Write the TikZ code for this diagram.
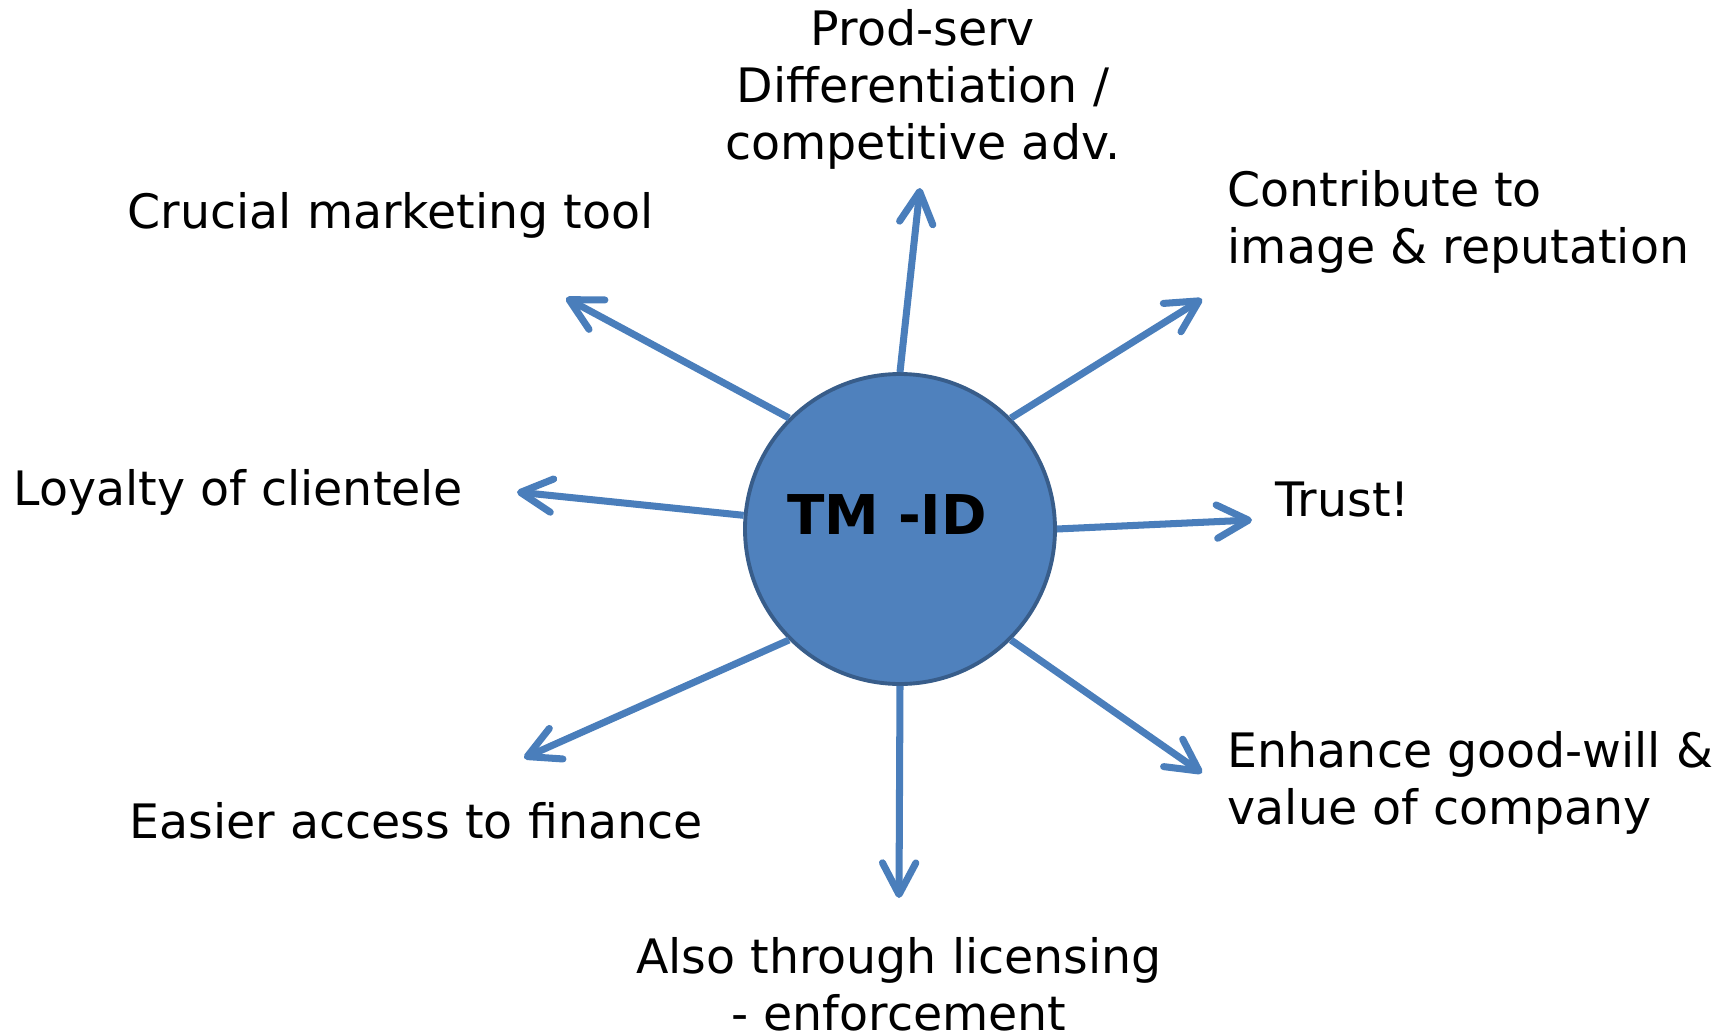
\documentclass[tikz,border=0pt]{standalone}
\usepackage{fontspec}
\setmainfont{DejaVu Sans}
\usetikzlibrary{arrows.meta,positioning}
\definecolor{hubfill}{HTML}{4F81BD}
\definecolor{hubedge}{HTML}{385D8A}
\definecolor{spokecol}{HTML}{4A7EBB}
\tikzstyle{hub} = [draw=hubedge, fill=hubfill, circle, line width=1.1pt, minimum size=31mm, inner sep=0pt]
\tikzstyle{note} = [inner sep=0pt, font=\fontsize{13.5}{16.2}\selectfont]
\tikzstyle{spoke} = [draw=spokecol, line width=2pt, -{Straight Barb[length=9pt,width=9.5pt,round]}]
\tikzstyle{tip} = [coordinate]

\begin{document}
\begin{tikzpicture}[x=0.1mm, y=-0.1mm]
    \useasboundingbox (0,0) rectangle (1732,1032);
    % Hub
    \node [hub] (tm) at (900,529) {};
    \node at (887,515) [font=\fontsize{15.6}{18}\selectfont\bfseries] (tmtext) {TM -ID};

    % Labels
    \node [note, align=center] (prod) at (923,89) {Prod-serv\\Differentiation /\\competitive adv.};
    \node [note, anchor=west] (crucial) at (127,215) {Crucial marketing tool};
    \node [note, anchor=west, align=left] (contrib) at (1227,222) {Contribute to\\image \& reputation};
    \node [note, anchor=west] (loyalty) at (13,492) {Loyalty of clientele};
    \node [note, anchor=west] (trust) at (1275,500) {Trust!};
    \node [note, anchor=west] (finance) at (129,821) {Easier access to finance};
    \node [note, anchor=west, align=left] (goodwill) at (1227,783) {Enhance good-will \&\\value of company};
    \node [note, align=center] (licensing) at (899,984) {Also through licensing\\- enforcement};

    % Arrow ends
    \node [tip] (upTip) at (920,188) {};
    \node [tip] (ulTip) at (566,298) {};
    \node [tip] (urTip) at (1202,299) {};
    \node [tip] (lTip) at (517,492) {};
    \node [tip] (rTip) at (1252,520) {};
    \node [tip] (dlTip) at (524,758) {};
    \node [tip] (dTip) at (899,898) {};
    \node [tip] (drTip) at (1202,773) {};

    % Connections
    \draw [spoke] (tm.90) -- (upTip);
    \draw [spoke] (tm.135) -- (ulTip);
    \draw [spoke] (tm.45) -- (urTip);
    \draw [spoke] (tm.175) -- (lTip);
    \draw [spoke] (tm.0) -- (rTip);
    \draw [spoke] (tm.225) -- (dlTip);
    \draw [spoke] (tm.270) -- (dTip);
    \draw [spoke] (tm.315) -- (drTip);
\end{tikzpicture}
\end{document}
